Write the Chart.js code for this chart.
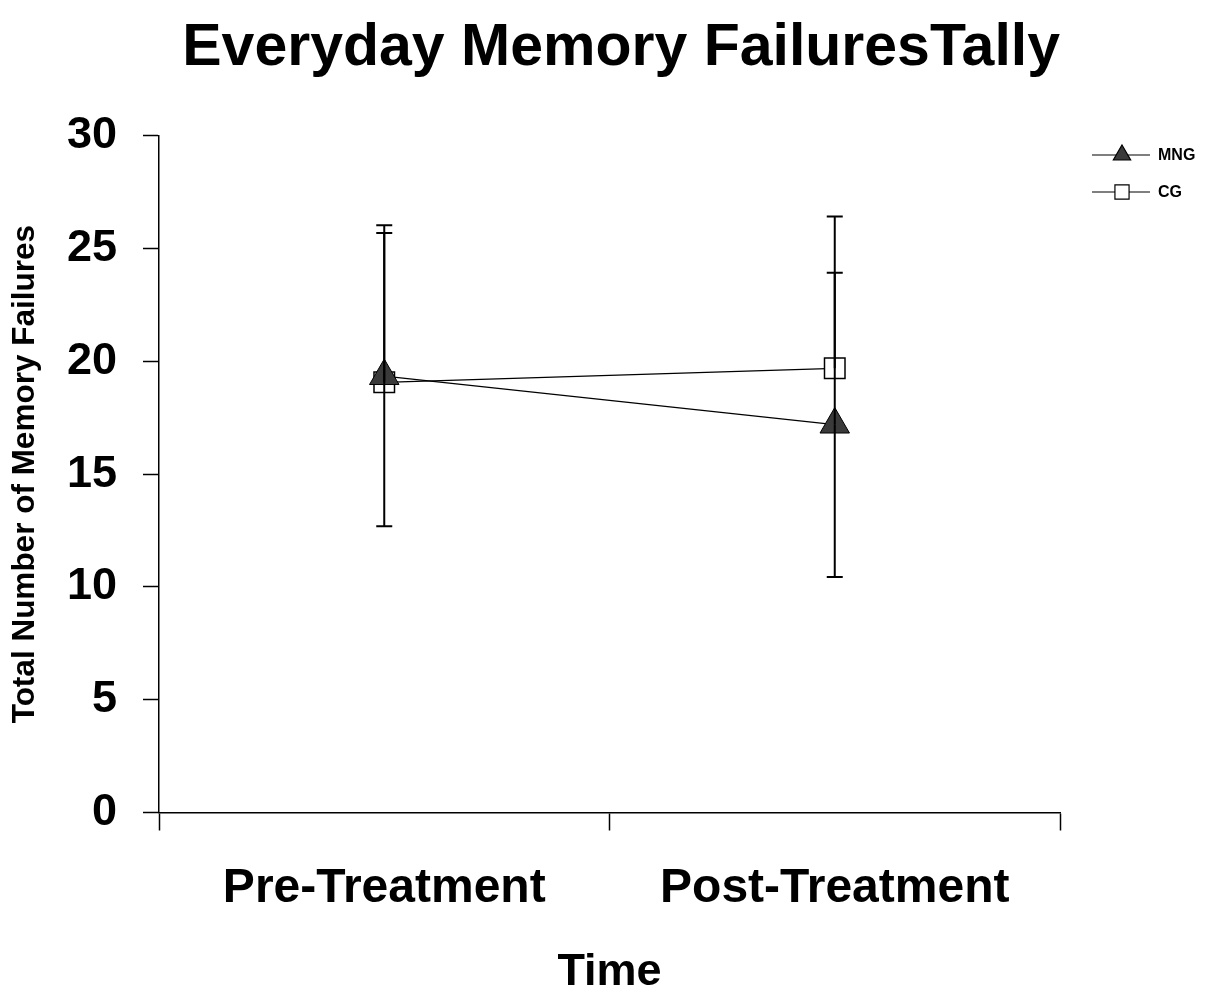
<!DOCTYPE html>
<html>
<head>
<meta charset="utf-8">
<title>Everyday Memory Failures Tally</title>
<script src="https://cdn.jsdelivr.net/npm/chart.js@4/dist/chart.umd.min.js"></script>
<style>
  html, body { margin: 0; padding: 0; background: #fff; }
  #wrap { position: relative; width: 1228px; height: 994px; }
</style>
</head>
<body>
<div id="wrap"><canvas id="chart"></canvas></div>
<script>
// data
const categories = ['Pre-Treatment', 'Post-Treatment'];
const mngMean = [19.35, 17.2];
const mngErrHigh = [6.68, 6.73];
const mngErrLow = [6.66, 6.76];
const cgMean = [19.07, 19.69];
const cgErrHigh = [6.62, 6.73];
const cgErrLow = [null, null];   // only the upper bar is drawn for CG
const yTicks = [0, 5, 10, 15, 20, 25, 30];

const FONT = "'Liberation Sans', Arial, Helvetica, sans-serif";

// error bars, drawn through the y scale
const errorBars = {
  id: 'errorBars',
  afterDatasetsDraw(chart) {
    const ctx = chart.ctx;
    const yScale = chart.scales.y;
    const bars = [
      { mean: mngMean, hi: mngErrHigh, lo: mngErrLow },
      { mean: cgMean, hi: cgErrHigh, lo: cgErrLow }
    ];
    ctx.save();
    ctx.strokeStyle = '#000';
    ctx.lineWidth = 2;
    bars.forEach((b, di) => {
      const meta = chart.getDatasetMeta(di);
      meta.data.forEach((pt, i) => {
        const x = pt.x;
        const yMid = yScale.getPixelForValue(b.mean[i]);
        const ends = [];
        if (b.hi[i] != null) ends.push(yScale.getPixelForValue(b.mean[i] + b.hi[i]));
        if (b.lo[i] != null) ends.push(yScale.getPixelForValue(b.mean[i] - b.lo[i]));
        ends.forEach(ye => {
          ctx.beginPath();
          ctx.moveTo(x, yMid);
          ctx.lineTo(x, ye);
          ctx.moveTo(x - 8, ye);
          ctx.lineTo(x + 8, ye);
          ctx.stroke();
        });
      });
    });
    ctx.restore();
  }
};

// small legend top right, like the original
const sideLegend = {
  id: 'sideLegend',
  afterDraw(chart) {
    const ctx = chart.ctx;
    const rows = [
      { ds: chart.data.datasets[0], y: 155, r: 10 },
      { ds: chart.data.datasets[1], y: 192, r: 10 }
    ];
    ctx.save();
    rows.forEach(row => {
      ctx.strokeStyle = '#000';
      ctx.lineWidth = 1.2;
      ctx.beginPath();
      ctx.moveTo(1092, row.y);
      ctx.lineTo(1150, row.y);
      ctx.stroke();
      ctx.fillStyle = row.ds.pointBackgroundColor;
      ctx.strokeStyle = '#000';
      ctx.lineWidth = 1.2;
      Chart.helpers.drawPoint(ctx, {
        pointStyle: row.ds.pointStyle, radius: row.r, rotation: 0, borderWidth: 1.2
      }, 1122, row.y);
      ctx.fillStyle = '#000';
      ctx.font = 'bold 16px ' + FONT;
      ctx.textAlign = 'left';
      ctx.textBaseline = 'middle';
      ctx.fillText(row.ds.label, 1158, row.y + 1);
    });
    ctx.restore();
  }
};

new Chart(document.getElementById('chart'), {
  type: 'line',
  data: {
    labels: categories,
    datasets: [
      {
        label: 'MNG',
        data: mngMean,
        borderColor: '#000',
        borderWidth: 1.3,
        pointStyle: 'triangle',
        pointRadius: 17,
        pointBackgroundColor: '#3a3a3a',
        pointBorderColor: '#000',
        pointBorderWidth: 1,
        tension: 0
      },
      {
        label: 'CG',
        data: cgMean,
        borderColor: '#000',
        borderWidth: 1.3,
        pointStyle: 'rect',
        pointRadius: 14.5,
        pointBackgroundColor: '#fff',
        pointBorderColor: '#000',
        pointBorderWidth: 1.5,
        tension: 0
      }
    ]
  },
  options: {
    responsive: true,
    maintainAspectRatio: false,
    animation: false,
    layout: { padding: { left: 0, right: 168, top: 0, bottom: 0 } },
    plugins: {
      legend: { display: false },
      tooltip: { enabled: false },
      title: {
        display: true,
        text: 'Everyday Memory FailuresTally',
        align: 'end',
        color: '#000',
        font: { family: FONT, size: 59, weight: 'bold' },
        padding: { top: 13, bottom: 52 }
      }
    },
    scales: {
      x: {
        type: 'category',
        offset: true,
        grid: { offset: true, drawOnChartArea: false, drawTicks: true, tickLength: 18, tickColor: '#000', tickWidth: 1.5 },
        border: { display: true, color: '#000', width: 1.5 },
        ticks: { color: '#000', font: { family: FONT, size: 48, weight: 'bold' }, padding: 29, maxRotation: 0 },
        title: { display: true, text: 'Time', color: '#000', font: { family: FONT, size: 45, weight: 'bold' }, padding: { top: 0, bottom: -6 } },
        afterFit(scale) { scale.height = 181.5; }
      },
      y: {
        min: 0,
        max: 30,
        afterBuildTicks(scale) { scale.ticks = yTicks.map(v => ({ value: v })); },
        grid: { drawOnChartArea: false, drawTicks: true, tickLength: 16, tickColor: '#000', tickWidth: 1.5 },
        border: { display: true, color: '#000', width: 1.5 },
        ticks: { color: '#000', font: { family: FONT, size: 45, weight: 'bold' }, padding: 26 },
        title: { display: true, text: 'Total Number of Memory Failures', color: '#000', font: { family: FONT, size: 31.5, weight: 'bold' }, padding: { top: 6, bottom: 0 } },
        afterFit(scale) { scale.width = 159; }
      }
    }
  },
  plugins: [errorBars, sideLegend]
});
</script>
</body>
</html>
